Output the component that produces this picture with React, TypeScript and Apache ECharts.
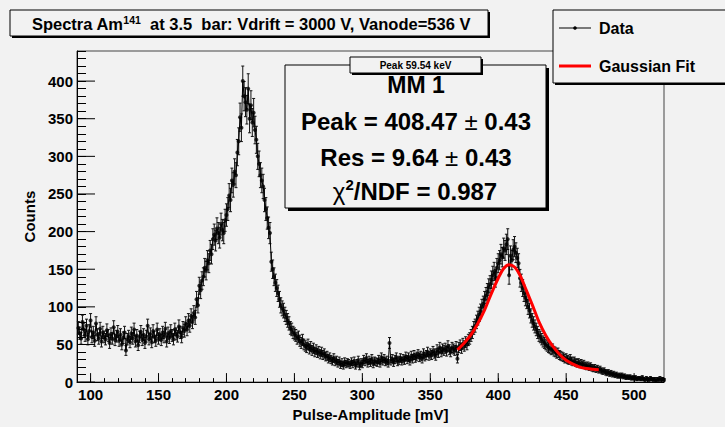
import React, { useEffect, useRef } from "react";
import * as echarts from "echarts";

// Histogram: bin centres start at 91 mV, 1 mV bins
const X_START = 91;
const counts = [
  72, 65, 58, 80, 70, 62, 75, 57, 68, 82,
  60, 66, 55, 78, 63, 58, 71, 54, 66, 60,
  57, 69, 62, 52, 64, 58, 73, 56, 61, 67,
  55, 63, 50, 59, 66, 42, 57, 61, 53, 65,
  58, 70, 54, 62, 49, 60, 67, 56, 63, 52,
  61, 75, 57, 64, 53, 68, 60, 55, 70, 58,
  63, 56, 66, 60, 71, 54, 65, 59, 68, 62,
  57, 70, 64, 61, 74, 66, 60, 72, 68, 78,
  70, 82, 75, 88, 80, 92, 86, 110, 102, 128,
  122, 135, 140, 152, 148, 162, 158, 175, 170, 190,
  196, 188, 204, 198, 192, 210, 202, 198, 215, 222,
  230, 248, 242, 268, 262, 280, 275, 305, 320, 352,
  338, 400, 380, 372, 362, 390, 350, 368, 345, 358,
  335, 322, 300, 290, 275, 268, 260, 242, 230, 218,
  205, 198, 160, 150, 140, 132, 125, 118, 110, 102,
  98, 95, 90, 86, 82, 78, 72, 70, 66, 64,
  62, 58, 60, 55, 52, 56, 50, 48, 46, 50,
  44, 47, 42, 45, 40, 43, 39, 41, 37, 40,
  36, 38, 34, 35, 31, 33, 30, 28, 32, 27,
  29, 25, 28, 23, 26, 22, 27, 24, 26, 25,
  23, 27, 24, 28, 22, 25, 29, 21, 26, 24,
  30, 27, 32, 25, 29, 26, 31, 24, 28, 27,
  26, 30, 25, 33, 28, 31, 27, 29, 25, 52,
  28, 31, 26, 30, 33, 27, 29, 32, 28, 31,
  29, 34, 30, 33, 28, 35, 31, 36, 32, 34,
  37, 33, 35, 31, 38, 34, 36, 40, 35, 38,
  36, 41, 38, 35, 43, 39, 46, 40, 44, 42,
  45, 41, 48, 43, 40, 46, 44, 42, 47, 31,
  46, 49, 45, 51, 48, 53, 50, 56, 58, 62,
  66, 72, 75, 80, 85, 90, 94, 100, 104, 110,
  115, 120, 126, 130, 136, 142, 147, 138, 152, 158,
  162, 170, 166, 178, 175, 183, 190, 142, 168, 162,
  176, 180, 172, 165, 158, 138, 132, 125, 118, 112,
  108, 100, 95, 88, 82, 78, 74, 70, 66, 62,
  60, 57, 54, 52, 50, 48, 46, 45, 43, 44,
  41, 40, 38, 39, 36, 35, 34, 33, 31, 32,
  30, 29, 31, 28, 27, 28, 26, 25, 26, 24,
  25, 23, 24, 22, 21, 22, 20, 21, 19, 18,
  19, 17, 18, 16, 17, 15, 14, 15, 13, 12,
  13, 11, 12, 10, 11, 9, 10, 8, 9, 8,
  9, 7, 8, 6, 7, 6, 7, 5, 6, 5,
  6, 4, 5, 5, 4, 6, 4, 3, 5, 4,
  3, 5, 4, 3, 4, 2, 4, 3, 5, 3,
  4, 3,
];

// Gaussian fit curve
const fitX = [370, 375, 380, 385, 390, 395, 400, 404, 408, 412, 416, 420, 425, 430, 435, 440, 445, 450, 455, 460, 465, 470, 474];
const fitY = [43, 52, 63, 78, 96, 118, 138, 151, 156, 153, 142, 125, 103, 80, 62, 48, 37, 29, 24, 20, 18, 17, 16.5];

const majorXTicks = [100, 150, 200, 250, 300, 350, 400, 450, 500];
const majorYTicks = [0, 50, 100, 150, 200, 250, 300, 350, 400];

const X_MIN = 90;
const X_MAX = 522;
const Y_MIN = 0;
const Y_MAX = 440;

const FONT = '"Liberation Sans", Arial, Helvetica, sans-serif';
const BG = "#f2f2f2";

export default function App() {
  const ref = useRef<HTMLDivElement>(null);

  useEffect(() => {
    if (!ref.current) return;
    const chart = echarts.init(ref.current, null, { renderer: "svg" });

    const binX = counts.map((_, i) => X_START + i);
    const points = binX.map((x, i) => [x, counts[i]]);
    const errData = binX.map((x, i) => [x, counts[i], Math.sqrt(counts[i])]);
    const fitData = fitX.map((x, i) => [x, fitY[i]]);

    const labelStyle = { color: "#000", fontSize: 15, fontWeight: "bold" as const, fontFamily: FONT };

    const option: any = {
      animation: false,
      backgroundColor: BG,
      grid: {
        left: 77,
        right: 61,
        top: 51,
        bottom: 40,
        show: true,
        borderColor: "#444",
        borderWidth: 1,
        backgroundColor: "transparent",
      },
      xAxis: {
        type: "value",
        min: X_MIN,
        max: X_MAX,
        interval: 10,
        axisLine: { show: true, onZero: false, lineStyle: { color: "#000", width: 1 } },
        axisTick: { show: true, inside: true, length: 4, lineStyle: { color: "#000", width: 1 } },
        axisLabel: {
          ...labelStyle,
          margin: 5,
          formatter: (v: number) => (v % 50 === 0 ? String(v) : ""),
        },
        splitLine: { show: false },
        name: "Pulse-Amplitude [mV]",
        nameLocation: "middle",
        nameGap: 18,
        nameTextStyle: { ...labelStyle, fontSize: 15 },
      },
      yAxis: {
        type: "value",
        min: Y_MIN,
        max: Y_MAX,
        interval: 10,
        axisLine: { show: true, onZero: false, lineStyle: { color: "#000", width: 1 } },
        axisTick: { show: true, inside: true, length: 9, lineStyle: { color: "#000", width: 1 } },
        axisLabel: {
          ...labelStyle,
          margin: 4,
          formatter: (v: number) => (v % 50 === 0 ? String(v) : ""),
        },
        splitLine: { show: false },
        name: "Counts",
        nameLocation: "middle",
        nameGap: 40,
        nameTextStyle: { ...labelStyle, fontSize: 15 },
      },
      series: [
        {
          type: "custom",
          name: "majorX",
          silent: true,
          data: majorXTicks.map((v) => [v, Y_MIN]),
          renderItem: (_p: any, api: any) => {
            const pt = api.coord([api.value(0), api.value(1)]);
            return {
              type: "line",
              shape: { x1: pt[0], y1: pt[1], x2: pt[0], y2: pt[1] - 9 },
              style: { stroke: "#000", lineWidth: 1 },
            };
          },
          z: 5,
        },
        {
          type: "custom",
          name: "majorY",
          silent: true,
          data: majorYTicks.map((v) => [X_MIN, v]),
          renderItem: (_p: any, api: any) => {
            const pt = api.coord([api.value(0), api.value(1)]);
            return {
              type: "line",
              shape: { x1: pt[0], y1: pt[1], x2: pt[0] + 18, y2: pt[1] },
              style: { stroke: "#000", lineWidth: 1 },
            };
          },
          z: 5,
        },
        {
          type: "custom",
          name: "errors",
          silent: true,
          data: errData,
          renderItem: (_p: any, api: any) => {
            const x = api.value(0);
            const y = api.value(1);
            const e = api.value(2);
            const top = api.coord([x, y + e]);
            const bot = api.coord([x, Math.max(0, y - e)]);
            const c = 1.5;
            const st = { stroke: "#111", lineWidth: 1 };
            return {
              type: "group",
              children: [
                { type: "line", shape: { x1: top[0], y1: top[1], x2: bot[0], y2: bot[1] }, style: st },
                { type: "line", shape: { x1: top[0] - c, y1: top[1], x2: top[0] + c, y2: top[1] }, style: st },
                { type: "line", shape: { x1: bot[0] - c, y1: bot[1], x2: bot[0] + c, y2: bot[1] }, style: st },
              ],
            };
          },
          z: 2,
        },
        {
          type: "line",
          name: "Data",
          data: points,
          showSymbol: false,
          lineStyle: { color: "#000", width: 1 },
          silent: true,
          z: 3,
        },
        {
          type: "scatter",
          name: "DataMarkers",
          data: points,
          symbol: "circle",
          symbolSize: 4,
          itemStyle: { color: "#000" },
          silent: true,
          z: 4,
        },
        {
          type: "line",
          name: "Gaussian Fit",
          data: fitData,
          smooth: 0.3,
          showSymbol: false,
          lineStyle: { color: "#ff0000", width: 3 },
          silent: true,
          z: 6,
        },
      ],
      graphic: [
        // title box
        { type: "rect", z: 100, shape: { x: 12, y: 12, width: 478, height: 26 }, style: { fill: "#000" } },
        { type: "rect", z: 101, shape: { x: 10, y: 10, width: 478, height: 26 }, style: { fill: BG, stroke: "#000", lineWidth: 1 } },
        {
          type: "text",
          z: 102,
          x: 251,
          y: 24,
          style: {
            text: "{m|Spectra Am}{s|141}{m|  at 3.5  bar: Vdrift = 3000 V, Vanode=536 V}",
            align: "center",
            verticalAlign: "middle",
            rich: {
              m: { fontSize: 16.5, fontWeight: "bold", fontFamily: FONT, fill: "#000", lineHeight: 20 },
              s: { fontSize: 10.5, fontWeight: "bold", fontFamily: FONT, fill: "#000", lineHeight: 20, verticalAlign: "top", padding: [0, 0, 6, 0] },
            },
          },
        },
        // legend box
        { type: "rect", z: 100, shape: { x: 555, y: 12, width: 200, height: 73 }, style: { fill: "#000" } },
        { type: "rect", z: 101, shape: { x: 553, y: 10, width: 200, height: 73 }, style: { fill: BG, stroke: "#000", lineWidth: 1 } },
        { type: "line", z: 102, shape: { x1: 559, y1: 28, x2: 591, y2: 28 }, style: { stroke: "#000", lineWidth: 1 } },
        { type: "circle", z: 102, shape: { cx: 575, cy: 28, r: 1.8 }, style: { fill: "#000" } },
        {
          type: "text", z: 102, x: 599, y: 28,
          style: { text: "Data", fontSize: 16, fontWeight: "bold", fontFamily: FONT, fill: "#000", align: "left", verticalAlign: "middle" },
        },
        { type: "line", z: 102, shape: { x1: 559, y1: 66, x2: 591, y2: 66 }, style: { stroke: "#ff0000", lineWidth: 3 } },
        {
          type: "text", z: 102, x: 599, y: 66,
          style: { text: "Gaussian Fit", fontSize: 16, fontWeight: "bold", fontFamily: FONT, fill: "#000", align: "left", verticalAlign: "middle" },
        },
        // stats box
        { type: "rect", z: 100, shape: { x: 288, y: 68, width: 261, height: 143 }, style: { fill: "#000" } },
        { type: "rect", z: 101, shape: { x: 285, y: 65, width: 261, height: 143 }, style: { fill: BG, stroke: "#000", lineWidth: 1 } },
        {
          type: "text", z: 102, x: 416, y: 85,
          style: { text: "MM 1", fontSize: 23, fontWeight: "bold", fontFamily: FONT, fill: "#000", align: "center", verticalAlign: "middle" },
        },
        {
          type: "text", z: 102, x: 416, y: 121,
          style: {
            text: "{b|Peak = 408.47 }{n|±}{b| 0.43}",
            align: "center",
            verticalAlign: "middle",
            rich: {
              b: { fontSize: 24, fontWeight: "bold", fontFamily: FONT, fill: "#000" },
              n: { fontSize: 24, fontFamily: FONT, fill: "#000" },
            },
          },
        },
        {
          type: "text", z: 102, x: 416, y: 157,
          style: {
            text: "{b|Res = 9.64 }{n|±}{b| 0.43}",
            align: "center",
            verticalAlign: "middle",
            rich: {
              b: { fontSize: 24, fontWeight: "bold", fontFamily: FONT, fill: "#000" },
              n: { fontSize: 24, fontFamily: FONT, fill: "#000" },
            },
          },
        },
        {
          type: "text", z: 102, x: 415, y: 191,
          style: {
            text: "{n|χ}{s|2}{b|/NDF = 0.987}",
            align: "center",
            verticalAlign: "middle",
            rich: {
              b: { fontSize: 24, fontWeight: "bold", fontFamily: FONT, fill: "#000", lineHeight: 28 },
              n: { fontSize: 24, fontFamily: FONT, fill: "#000", lineHeight: 28 },
              s: { fontSize: 15, fontWeight: "bold", fontFamily: FONT, fill: "#000", lineHeight: 28, verticalAlign: "top", padding: [0, 0, 10, 0] },
            },
          },
        },
        // stats label box
        { type: "rect", z: 103, shape: { x: 352, y: 59, width: 131, height: 16 }, style: { fill: "#000" } },
        { type: "rect", z: 104, shape: { x: 350, y: 57, width: 131, height: 16 }, style: { fill: BG, stroke: "#000", lineWidth: 1 } },
        {
          type: "text", z: 105, x: 415.5, y: 65,
          style: { text: "Peak 59.54 keV", fontSize: 10, fontWeight: "bold", fontFamily: FONT, fill: "#000", align: "center", verticalAlign: "middle" },
        },
      ],
    };

    chart.setOption(option);
    return () => chart.dispose();
  }, []);

  return (
    <div
      ref={ref}
      style={{ position: "absolute", left: 0, top: 0, width: 725, height: 427, background: BG }}
    />
  );
}
